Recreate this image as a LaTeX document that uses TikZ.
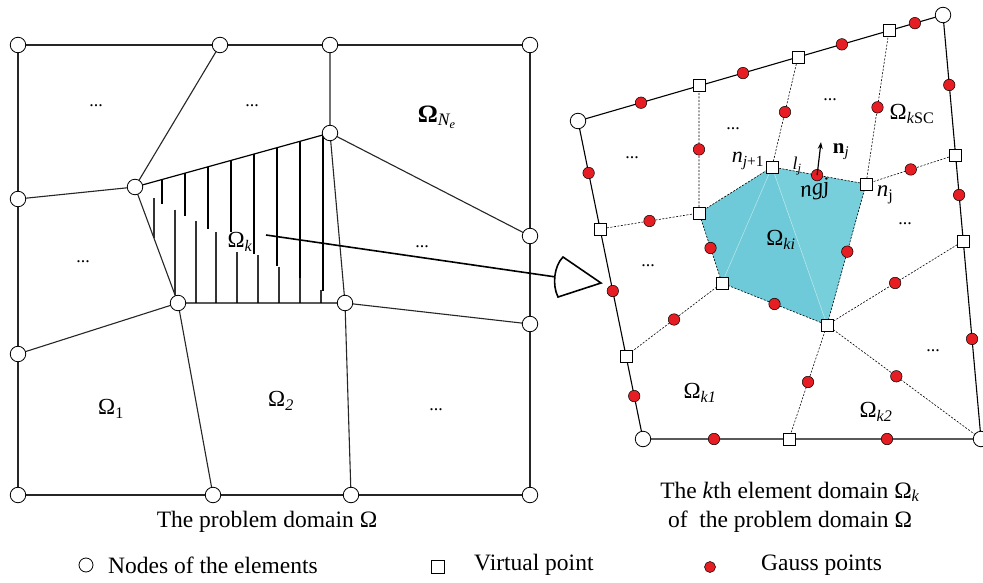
\documentclass[tikz,border=0pt]{standalone}
\usepackage{fontspec}
\setmainfont{Liberation Serif}
\usetikzlibrary{arrows.meta,calc}
\definecolor{gred}{RGB}{230,30,35}
\definecolor{cyanf}{RGB}{110,202,216}
\definecolor{cyanl}{RGB}{120,207,220}
\begin{document}
\begin{tikzpicture}[x=1pt,y=-1pt,
  nd/.style={circle,draw=black,fill=white,line width=0.8pt,minimum size=15.5pt,inner sep=0pt},
  vp/.style={rectangle,draw=black,fill=white,line width=0.8pt,minimum size=12pt,inner sep=0pt},
  gp/.style={circle,draw=black,fill=gred,line width=0.5pt,minimum size=11.5pt,inner sep=0pt},
  mesh/.style={draw=black!85,line width=1.1pt},
  rim/.style={draw=black,line width=1.1pt},
  dsh/.style={draw=black,line width=0.6pt,dash pattern=on 2pt off 1.5pt},
  lbl/.style={font=\fontsize{23}{26}\selectfont,inner sep=0pt},
  captxt/.style={font=\fontsize{23.5}{29}\selectfont,inner sep=0pt,align=center},
  dots/.style={font=\fontsize{18}{20}\selectfont,inner sep=0pt},
  hatchup/.style={draw=black,line width=2.3pt},
  hatchlo/.style={draw=black!80,line width=1.5pt},
]
\useasboundingbox (0,0) rectangle (983,583);
\fill[white] (0,0) rectangle (983,583);

% ---------------- left mesh ----------------
\coordinate (A1) at (18,45);  \coordinate (A2) at (220,45);  \coordinate (A3) at (330,45);  \coordinate (A4) at (530,45);
\coordinate (B1) at (18,199); \coordinate (B2) at (135,187); \coordinate (B3) at (330,133); \coordinate (B4) at (530,236);
\coordinate (C1) at (18,354); \coordinate (C2) at (178,303); \coordinate (C3) at (345,303); \coordinate (C4) at (530,324);
\coordinate (D1) at (18,495); \coordinate (D2) at (213,495); \coordinate (D3) at (351,495); \coordinate (D4) at (530,495);

% hatching
\foreach \x/\t/\b in {162/179.5/204,185/173.2/216.4,208/166.8/228.9,231/160.4/241.3,254/154.0/253.7,277/147.7/266.1,300/141.3/278.5,323/134.9/290.9}
  \draw[hatchup] (\x,\t) -- (\x,\b);
\foreach \x/\t/\b in {154/198/238,175/209.5/295,196/221/303,216/232/303,237/243.5/303,258/255/303,279/266.5/303,300/278/303,321/289.5/303}
  \draw[hatchlo] (\x,\t) -- (\x,\b);

\draw[mesh] (A1) -- (A2) -- (A3) -- (A4) -- (B4) -- (C4) -- (D4) -- (D3) -- (D2) -- (D1) -- (C1) -- (B1) -- cycle;
\draw[mesh] (A2) -- (B2) (B1) -- (B2) (A3) -- (B3) (B3) -- (B4) (B3) -- (C3) (B2) -- (C2)
            (C1) -- (C2) (C3) -- (C4) (C2) -- (D2) (C3) -- (D3);
\draw[draw=black,line width=1.2pt] (B2) -- (B3) (C2) -- (C3);

\foreach \p in {A1,A2,A3,A4,B1,B2,B3,B4,C1,C2,C3,C4,D1,D2,D3,D4}
  \node[nd] (n\p) at (\p) {};

\node[dots] (ld1) at (96,106) {...};
\node[dots] (ld2) at (252,106) {...};
\node[dots] (ld3) at (83,262) {...};
\node[dots] (ld4) at (422,247) {...};
\node[dots] (ld5) at (436,410) {...};
\node[lbl] (oNe) at (437,117) {\fontsize{25}{28}\selectfont\textbf{Ω}\textsubscript{\textit{N\textsubscript{e}}}};
\node[lbl] (o1) at (111,409) {Ω\textsubscript{1}};
\node[lbl] (o2) at (281,401) {Ω\textsubscript{\textit{2}}};

% arrow from the k-th element
\coordinate (as) at (266,235);
\coordinate (ae) at (556,277);
\draw[line width=1.6pt] (as) -- (ae);
\draw[line width=1.6pt,fill=white,line join=miter] (563,257) -- (601,283) -- (558,297) .. controls (552,285) and (554,266) .. (563,257) -- cycle;
\node[lbl,fill=white,inner sep=0.6pt] (ok) at (240,242) {Ω\textsubscript{\textit{k}}};

% ---------------- right mesh ----------------
\coordinate (TL) at (578,121); \coordinate (TR) at (943,15);
\coordinate (BL) at (643,439); \coordinate (BR) at (981,439);
\coordinate (T1) at ($(TL)!0.3315!(TR)$);
\coordinate (T2) at ($(TL)!0.6027!(TR)$);
\coordinate (T3) at ($(TL)!0.852!(TR)$);
\coordinate (L1) at ($(TL)!0.3396!(BL)$);
\coordinate (L2) at ($(TL)!0.739!(BL)$);
\coordinate (R1) at ($(TR)!0.33!(BR)$);
\coordinate (R2) at ($(TR)!0.533!(BR)$);
\coordinate (Bq) at (789,439);
\coordinate (P1) at (772,167);
\coordinate (P2) at (866,184);
\coordinate (P3) at (699,213);
\coordinate (P4) at (722,283);
\coordinate (P5) at (827,325);

\fill[cyanf] (P1) -- (P2) -- (P5) -- (P4) -- (P3) -- cycle;
\fill[cyanl] (P1) -- (P2) -- (P5) -- cycle;
\draw[white,opacity=0.55,line width=0.5pt] (P4) -- (P1) -- (P5);

\draw[dsh] (P1) -- (P2) -- (P5) -- (P4) -- (P3) -- cycle;
\draw[dsh] (T1) -- (P3) (T2) -- (P1) (T3) -- (P2) (R1) -- (P2) (L1) -- (P3)
           (L2) -- (P4) (R2) -- (P5) (Bq) -- (P5) (BR) -- (P5);

\draw[rim] (BL) -- (TL) -- (TR) -- (BR);
\draw[draw=black!65,line width=1.8pt] (BL) -- (BR);

% Gauss points
\foreach \a/\b/\t [count=\i] in {TL/TR/0.1726,TL/TR/0.452,TL/TR/0.723,TL/TR/0.923,
  TL/BL/0.1635,TL/BL/0.5346,TL/BL/0.865,
  TR/BR/0.165,TR/BR/0.4245,TR/BR/0.764,
  BL/BR/0.2101,BL/BR/0.7219,
  T1/P3/0.5,T2/P1/0.5,T3/P2/0.5,R1/P2/0.5,L1/P3/0.5,L2/P4/0.5,R2/P5/0.5,Bq/P5/0.5,P5/BR/0.45,
  P1/P2/0.48,P2/P5/0.48,P5/P4/0.5,P4/P3/0.5}
  \node[gp] (g\i) at ($(\a)!\t!(\b)$) {};

\foreach \p in {T1,T2,T3,L1,L2,R1,R2,Bq,P1,P2,P3,P4,P5}
  \node[vp] (s\p) at (\p) {};
\foreach \p in {TL,TR,BL,BR}
  \node[nd] (c\p) at (\p) {};

% normal arrow
\coordinate (nt) at (821,142);
\draw[line width=1.2pt,-{Stealth[length=7pt,width=5pt]}] (g22.center) -- (nt);

\node[dots] (rd1) at (632,158) {...};
\node[dots] (rd2) at (733,129) {...};
\node[dots] (rd3) at (830,100) {...};
\node[dots] (rd4) at (905,224) {...};
\node[dots] (rd5) at (648,266) {...};
\node[dots] (rd6) at (933,351) {...};

\node[lbl] (okSC) at (912,114) {Ω\textsubscript{\textit{k}SC}};
\node[lbl] (oki) at (781,240) {Ω\textsubscript{\textit{ki}}};
\node[lbl] (ok1) at (700,393) {Ω\textsubscript{\textit{k1}}};
\node[lbl] (ok2) at (876,412) {Ω\textsubscript{\textit{k2}}};
\node[lbl,font=\fontsize{22}{24}\selectfont] (nj1) at (748,161) {\textit{n}\textsubscript{\textit{j}+1}};
\node[lbl,font=\fontsize{18}{20}\selectfont] (lj) at (797,166) {\textit{l}\textsubscript{\textit{j}}};
\node[lbl,rotate=8] (ngj) at (815,190) {\textit{ngj}};
\node[lbl] (njr) at (885,195) {\textit{n}\textsubscript{j}};
\node[lbl,font=\fontsize{21}{24}\selectfont] (njb) at (841,152) {\textbf{n}\textsubscript{\textit{j}}};

% captions
\node[captxt] (capL) at (267,522) {The problem domain Ω};
\node[captxt] (capR) at (790,507) {The \textit{k}th element domain Ω\textsubscript{\textit{k}}\\of\ \ the problem domain Ω};

% legend
\node[nd,minimum size=14pt] (lgc) at (86,565) {};
\node[captxt,anchor=west] (lgct) at (108,565) {Nodes of the elements};
\node[vp,minimum size=13pt] (lgs) at (438,567) {};
\node[captxt,anchor=west] (lgst) at (474,565) {Virtual point};
\node[gp,minimum size=11pt] (lgg) at (710,567) {};
\node[captxt,anchor=west] (lggt) at (761,565) {Gauss points};
\end{tikzpicture}
\end{document}
